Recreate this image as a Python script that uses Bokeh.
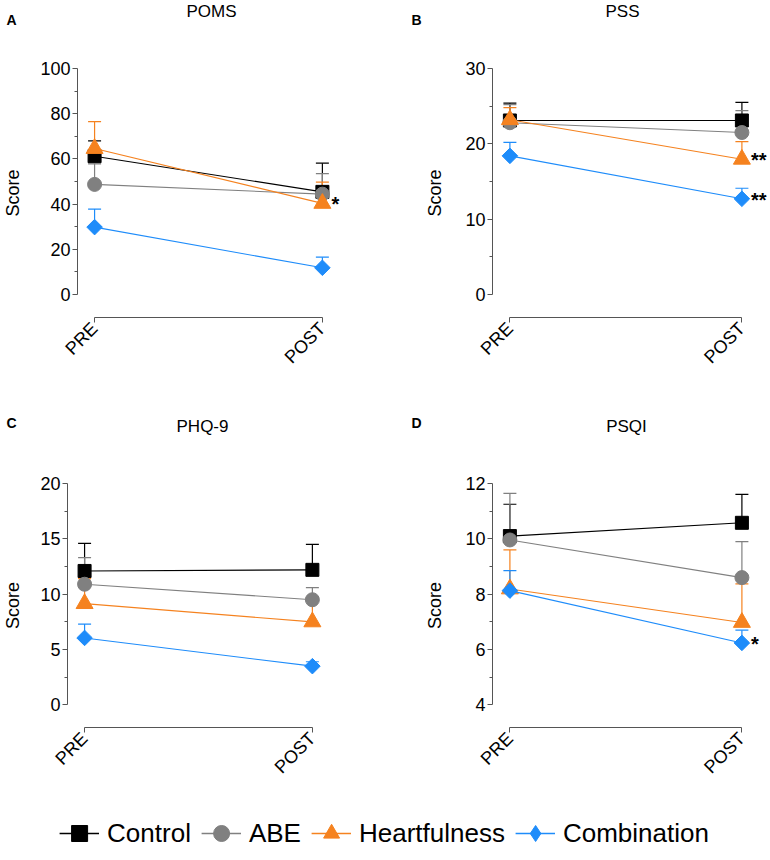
import math
from bokeh.plotting import figure
from bokeh.models import (ColumnDataSource, FixedTicker, Range1d, Whisker, TeeHead,
                          Label, Legend, LegendItem)
from bokeh.layouts import column, row
from bokeh.embed import file_html
from bokeh.resources import INLINE
from bokeh.core.properties import value

FONT = "Liberation Sans"

GROUPS = ["Control", "ABE", "Heartfulness", "Combination"]
TIMEPOINTS = ["PRE", "POST"]

# POMS (panel A)
POMS_MEAN = {"Control": [61.2, 45.4], "ABE": [48.7, 44.4],
             "Heartfulness": [64.6, 40.3], "Combination": [29.8, 11.8]}
POMS_UPPER = {"Control": [68.0, 58.1], "ABE": [57.8, 53.5],
              "Heartfulness": [76.5, 49.7], "Combination": [37.8, 16.5]}
POMS_TICKS = [0, 20, 40, 60, 80, 100]
POMS_SIG = {"Heartfulness": "*"}

# PSS (panel B)
PSS_MEAN = {"Control": [23.1, 23.1], "ABE": [22.8, 21.5],
            "Heartfulness": [23.2, 17.95], "Combination": [18.4, 12.7]}
PSS_UPPER = {"Control": [25.4, 25.5], "ABE": [25.2, 24.4],
             "Heartfulness": [24.8, 20.3], "Combination": [20.2, 14.1]}
PSS_TICKS = [0, 10, 20, 30]
PSS_SIG = {"Heartfulness": "**", "Combination": "**"}

# PHQ-9 (panel C)
PHQ_MEAN = {"Control": [12.1, 12.2], "ABE": [10.9, 9.5],
            "Heartfulness": [9.15, 7.5], "Combination": [6.05, 3.5]}
PHQ_UPPER = {"Control": [14.6, 14.5], "ABE": [13.3, 10.6],
             "Heartfulness": [11.4, 9.7], "Combination": [7.3, 3.9]}
PHQ_TICKS = [0, 5, 10, 15, 20]
PHQ_SIG = {}

# PSQI (panel D)
PSQI_MEAN = {"Control": [10.1, 10.58], "ABE": [9.96, 8.6],
             "Heartfulness": [8.19, 6.98], "Combination": [8.13, 6.24]}
PSQI_UPPER = {"Control": [11.25, 11.61], "ABE": [11.64, 9.9],
              "Heartfulness": [9.6, 8.37], "Combination": [8.85, 6.7]}
PSQI_TICKS = [4, 6, 8, 10, 12]
PSQI_SIG = {"Combination": "*"}

PANEL_TITLES = ["POMS", "PSS", "PHQ-9", "PSQI"]
PANEL_LETTERS = ["A", "B", "C", "D"]

COLORS = {"Control": "#000000", "ABE": "#808080",
          "Heartfulness": "#F5821F", "Combination": "#1E8CFA"}
MARKERS = {"Control": ("square", 13, 0.0), "ABE": ("circle", 14, 0.0),
           "Heartfulness": ("triangle", 17, 0.0),
           "Combination": ("square", 11, math.pi / 4)}
LEGEND_MARKERS = {"Control": "square", "ABE": "circle",
                  "Heartfulness": "triangle", "Combination": "diamond"}

AXIS_COLOR = "#555555"
FRAME_W = 276
X_RANGE = (-0.075, -0.075 + FRAME_W / 232.0)
FIG_W = 384


def make_panel(means, uppers, ticks, sig, height, border):
    lo, hi = ticks[0], ticks[-1]
    y0 = lo - 0.102 * (hi - lo)
    left, top, bottom, score_standoff = border
    right = FIG_W - left - FRAME_W
    p = figure(width=FIG_W, height=height,
               x_range=Range1d(*X_RANGE), y_range=Range1d(y0, hi),
               output_backend="svg", toolbar_location=None,
               min_border_left=left, min_border_right=right,
               min_border_top=top, min_border_bottom=bottom,
               outline_line_color=None, background_fill_color="white",
               border_fill_color="white")
    p.xgrid.visible = False
    p.ygrid.visible = False

    x = list(range(len(TIMEPOINTS)))
    for g in GROUPS:
        c = COLORS[g]
        src = ColumnDataSource(dict(x=x, mean=means[g], upper=uppers[g]))
        w = Whisker(source=src, base="x", lower="mean", upper="upper",
                    dimension="height", line_color=c, line_width=1.2,
                    upper_head=TeeHead(size=13, line_color=c, line_width=1.2),
                    lower_head=None, level="underlay")
        p.add_layout(w)
    for g in GROUPS:
        c = COLORS[g]
        m, s, a = MARKERS[g]
        src = ColumnDataSource(dict(x=x, mean=means[g]))
        p.line("x", "mean", source=src, line_color=c, line_width=1.1)
        p.scatter("x", "mean", source=src, marker=m, size=s, angle=a,
                  fill_color=c, line_color=c)
        if g in sig:
            p.add_layout(Label(x=x[-1], y=means[g][-1], text=sig[g],
                               x_offset=9, y_offset=-1,
                               text_font=FONT, text_font_size="20px",
                               text_font_style="bold", text_color="black",
                               text_align="left", text_baseline="middle"))

    minor = [(a + b) / 2 for a, b in zip(ticks, ticks[1:])]
    yax = p.yaxis[0]
    yax.ticker = FixedTicker(ticks=ticks, minor_ticks=minor)
    yax.bounds = (lo, hi)
    yax.axis_label = "Score"
    yax.axis_label_text_font = FONT
    yax.axis_label_text_font_size = "18px"
    yax.axis_label_text_font_style = "normal"
    yax.axis_label_text_color = "black"
    yax.axis_label_standoff = score_standoff
    yax.major_label_text_font = FONT
    yax.major_label_text_font_size = "18px"
    yax.major_label_standoff = 2
    yax.major_tick_in = 0
    yax.major_tick_out = 5
    yax.minor_tick_in = 0
    yax.minor_tick_out = 3
    for ax in (p.xaxis[0], yax):
        ax.axis_line_color = AXIS_COLOR
        ax.major_tick_line_color = AXIS_COLOR
        ax.minor_tick_line_color = AXIS_COLOR
        ax.major_label_text_color = "black"

    xax = p.xaxis[0]
    xax.ticker = FixedTicker(ticks=x, minor_ticks=[])
    xax.major_label_overrides = {i: t for i, t in enumerate(TIMEPOINTS)}
    xax.bounds = (x[0], x[-1])
    xax.major_label_orientation = math.pi / 4
    xax.major_label_text_font = FONT
    xax.major_label_text_font_size = "18px"
    xax.major_label_standoff = 3
    xax.major_tick_in = 0
    xax.major_tick_out = 5
    xax.minor_tick_line_color = None
    return p


def make_strip(height, titles, letters, title_pos, letter_pos):
    s = figure(width=2 * FIG_W, height=height,
               x_range=Range1d(0, 2 * FIG_W), y_range=Range1d(height, 0),
               output_backend="svg", toolbar_location=None, min_border=0,
               x_axis_location=None, y_axis_location=None,
               outline_line_color=None)
    s.xgrid.visible = False
    s.ygrid.visible = False
    s.text(x=[p[0] for p in title_pos], y=[p[1] for p in title_pos], text=titles,
           text_font=value(FONT), text_font_size="17px", text_color="black",
           text_align="center", text_baseline="middle")
    s.text(x=[p[0] for p in letter_pos], y=[p[1] for p in letter_pos], text=letters,
           text_font=value(FONT), text_font_size="14px", text_font_style="bold",
           text_color="black", text_align="center", text_baseline="middle")
    return s


strip1 = make_strip(39, PANEL_TITLES[:2], PANEL_LETTERS[:2],
                    [(211, 11), (622, 11)], [(11, 19), (416, 19)])
strip2 = make_strip(57, PANEL_TITLES[2:], PANEL_LETTERS[2:],
                    [(202, 39), (626, 39)], [(11, 35), (416, 35)])

pA = make_panel(POMS_MEAN, POMS_UPPER, POMS_TICKS, POMS_SIG, 348, (72, 29, 70, 14))
pB = make_panel(PSS_MEAN, PSS_UPPER, PSS_TICKS, PSS_SIG, 348, (108, 29, 70, 17))
pC = make_panel(PHQ_MEAN, PHQ_UPPER, PHQ_TICKS, PHQ_SIG, 343, (62, 39, 55, 14))
pD = make_panel(PSQI_MEAN, PSQI_UPPER, PSQI_TICKS, PSQI_SIG, 343, (108, 39, 55, 17))

leg = figure(width=2 * FIG_W, height=66, x_range=Range1d(0, 1), y_range=Range1d(0, 1),
             output_backend="svg", toolbar_location=None, min_border=0,
             x_axis_location=None, y_axis_location=None,
             outline_line_color=None)
leg.xgrid.visible = False
leg.ygrid.visible = False
items = []
for g in GROUPS:
    c = COLORS[g]
    src = ColumnDataSource(dict(x=[float("nan")], y=[float("nan")]))
    lr = leg.line("x", "y", source=src, line_color=c, line_width=1.5)
    sr = leg.scatter("x", "y", source=src, marker=LEGEND_MARKERS[g], size=14,
                     fill_color=c, line_color=c)
    items.append(LegendItem(label=g, renderers=[lr, sr]))
legend = Legend(items=items, orientation="horizontal", location="bottom_center",
                label_text_font=FONT, label_text_font_size="26px",
                label_text_color="black",
                label_standoff=8, spacing=10, glyph_width=40, glyph_height=40,
                padding=0, margin=0, border_line_color=None,
                background_fill_alpha=0)
leg.add_layout(legend, "center")

layout = column(strip1, row(pA, pB), strip2, row(pC, pD), leg)
open("out.html", "w").write(file_html(layout, INLINE))
